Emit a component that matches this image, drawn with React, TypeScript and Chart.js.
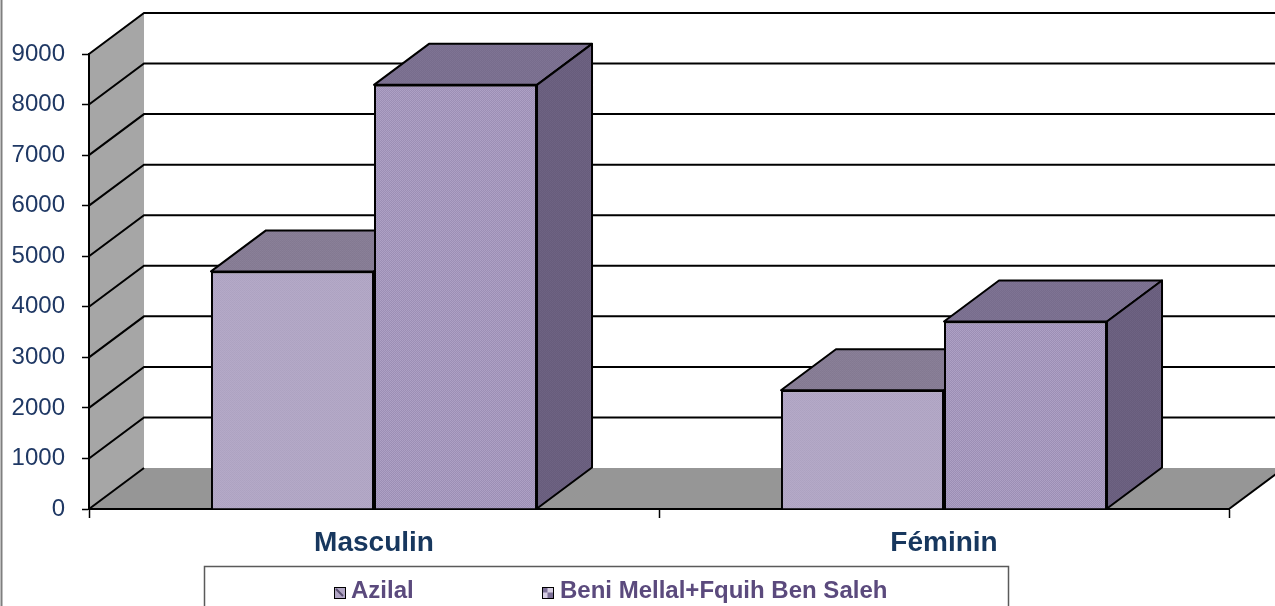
import React, { useEffect, useRef } from "react";
import { Chart, registerables } from "chart.js";

Chart.register(...registerables);

const categories = ["Masculin", "Féminin"];
const seriesNames = ["Azilal", "Beni Mellal+Fquih Ben Saleh"];
const azilal = [4700, 2350];
const beniMellal = [8390, 3710];
const yMin = 0;
const yMax = 9000;
const yStep = 1000;

const DX = 55;
const DY = -41;
const FONT = "Arial, 'Liberation Sans', sans-serif";

function makePattern(colors: string[][]): CanvasPattern | string {
  const h = colors.length;
  const w = colors[0].length;
  const c = document.createElement("canvas");
  c.width = w;
  c.height = h;
  const g = c.getContext("2d");
  if (!g) return colors[0][0];
  for (let r = 0; r < h; r++) {
    for (let k = 0; k < w; k++) {
      g.fillStyle = colors[r][k];
      g.fillRect(k, r, 1, 1);
    }
  }
  const p = g.createPattern(c, "repeat");
  return p || colors[0][0];
}

function poly(ctx: CanvasRenderingContext2D, pts: number[][]) {
  ctx.beginPath();
  ctx.moveTo(pts[0][0], pts[0][1]);
  for (let i = 1; i < pts.length; i++) ctx.lineTo(pts[i][0], pts[i][1]);
  ctx.closePath();
}

export default function App() {
  const ref = useRef<HTMLCanvasElement | null>(null);

  useEffect(() => {
    const canvas = ref.current;
    if (!canvas) return;

    const frontA = makePattern([
      ["#ada2c1", "#b4a9c7"],
      ["#b5aac8", "#aea3c2"],
    ]);
    const frontB = makePattern([
      ["#aea1c5", "#9b8db4"],
      ["#9d8fb6", "#aca0c3"],
    ]);
    const topA = makePattern([
      ["#8a8098", "#847a93"],
      ["#837991", "#897f97"],
    ]);
    const topB = makePattern([
      ["#7f7494", "#776c8c"],
      ["#786d8d", "#7e7393"],
    ]);
    const sideA = "#6e6482";
    const sideB = makePattern([
      ["#6e6383", "#675c7b"],
      ["#685d7c", "#6d6282"],
    ]);
    const tops = [topA, topB];
    const sides = [sideA, sideB];

    const threeD = {
      id: "threeD",
      beforeDraw(chart: any) {
        const { ctx, chartArea: ca, scales } = chart;
        const y = scales.y;
        ctx.save();
        // left wall
        ctx.fillStyle = "#a6a6a6";
        poly(ctx, [
          [ca.left, ca.top],
          [ca.left + DX, ca.top + DY],
          [ca.left + DX, ca.bottom + DY],
          [ca.left, ca.bottom],
        ]);
        ctx.fill();
        // floor
        ctx.fillStyle = "#969696";
        poly(ctx, [
          [ca.left, ca.bottom],
          [ca.right, ca.bottom],
          [ca.right + DX, ca.bottom + DY],
          [ca.left + DX, ca.bottom + DY],
        ]);
        ctx.fill();
        // grid lines: left wall diagonals + back wall horizontals
        ctx.strokeStyle = "#000";
        ctx.lineWidth = 2;
        ctx.lineJoin = "miter";
        for (const t of y.ticks) {
          const py = y.getPixelForValue(t.value);
          ctx.beginPath();
          ctx.moveTo(ca.left, py);
          ctx.lineTo(ca.left + DX, py + DY);
          if (t.value !== yMin) ctx.lineTo(chart.width + 20, py + DY);
          ctx.stroke();
        }
        // floor right edge
        ctx.beginPath();
        ctx.moveTo(ca.right, ca.bottom);
        ctx.lineTo(ca.right + DX, ca.bottom + DY);
        ctx.stroke();
        // outer frame left line
        ctx.strokeStyle = "#7f7f7f";
        ctx.lineWidth = 2;
        ctx.beginPath();
        ctx.moveTo(1.5, 0);
        ctx.lineTo(1.5, chart.height);
        ctx.stroke();
        ctx.restore();
      },
      beforeDatasetsDraw(chart: any) {
        const { ctx } = chart;
        ctx.save();
        ctx.strokeStyle = "#000";
        ctx.lineWidth = 2;
        ctx.lineJoin = "round";
        chart.data.datasets.forEach((_: any, di: number) => {
          const meta = chart.getDatasetMeta(di);
          meta.data.forEach((el: any) => {
            const l = el.x - el.width / 2;
            const r = el.x + el.width / 2;
            const t = el.y;
            const b = el.base;
            // top face
            ctx.fillStyle = tops[di];
            poly(ctx, [
              [l, t],
              [r, t],
              [r + DX, t + DY],
              [l + DX, t + DY],
            ]);
            ctx.fill();
            ctx.stroke();
            // side face
            ctx.fillStyle = sides[di];
            poly(ctx, [
              [r, t],
              [r + DX, t + DY],
              [r + DX, b + DY],
              [r, b],
            ]);
            ctx.fill();
            ctx.stroke();
          });
        });
        ctx.restore();
      },
      afterDraw(chart: any) {
        const { ctx } = chart;
        ctx.save();
        // legend box
        ctx.strokeStyle = "#5a5a5a";
        ctx.lineWidth = 1.5;
        ctx.strokeRect(204.5, 566.5, 804, 80);
        const items = [
          { x: 334, tx: 351 },
          { x: 542, tx: 560 },
        ];
        ctx.font = `bold 24px ${FONT}`;
        ctx.textBaseline = "alphabetic";
        ctx.textAlign = "left";
        chart.data.datasets.forEach((ds: any, i: number) => {
          const it = items[i];
          const iy = 587;
          const s = 11;
          if (i === 0) {
            ctx.fillStyle = "#b1a6c4";
            ctx.fillRect(it.x, iy, s, s);
            ctx.strokeStyle = "#5a4f70";
            ctx.lineWidth = 2;
            ctx.beginPath();
            ctx.moveTo(it.x + 2, iy + 2);
            ctx.lineTo(it.x + s - 2, iy + s - 2);
            ctx.stroke();
          } else {
            ctx.fillStyle = "#d8d0e4";
            ctx.fillRect(it.x, iy, s, s);
            ctx.fillStyle = "#7b6f95";
            ctx.fillRect(it.x, iy, s / 2, s / 2);
            ctx.fillRect(it.x + s / 2, iy + s / 2, s / 2, s / 2);
          }
          ctx.strokeStyle = "#000";
          ctx.lineWidth = 1;
          ctx.strokeRect(it.x + 0.5, iy + 0.5, s, s);
          ctx.fillStyle = "#5b4a7d";
          ctx.fillText(ds.label, it.tx, 598);
        });
        ctx.restore();
      },
    };

    const chart = new Chart(canvas, {
      type: "bar",
      data: {
        labels: categories,
        datasets: [
          {
            label: seriesNames[0],
            data: azilal,
            backgroundColor: frontA as any,
            borderColor: "#000",
            borderWidth: 2,
            categoryPercentage: 0.572,
            barPercentage: 1,
          },
          {
            label: seriesNames[1],
            data: beniMellal,
            backgroundColor: frontB as any,
            borderColor: "#000",
            borderWidth: 2,
            categoryPercentage: 0.572,
            barPercentage: 1,
          },
        ],
      },
      options: {
        responsive: false,
        animation: false,
        devicePixelRatio: 1,
        layout: { padding: { left: 0, top: 54, right: 46, bottom: 0 } },
        plugins: {
          legend: { display: false },
          tooltip: { enabled: false },
        },
        scales: {
          x: {
            offset: true,
            grid: {
              display: true,
              drawOnChartArea: false,
              drawTicks: true,
              tickLength: 9,
              tickColor: "#000",
              tickWidth: 1.5,
              offset: true,
            },
            border: { display: true, color: "#000", width: 2 },
            ticks: {
              font: { family: FONT, size: 28, weight: "bold" },
              color: "#17375e",
              padding: 8,
              maxRotation: 0,
            },
            afterFit(s: any) {
              s.height = 97;
            },
          },
          y: {
            min: yMin,
            max: yMax,
            ticks: {
              stepSize: yStep,
              font: { family: FONT, size: 24 },
              color: "#1f3864",
              padding: 17,
              callback: (v: any) => String(v),
            },
            grid: {
              drawOnChartArea: false,
              drawTicks: true,
              tickLength: 7,
              tickColor: "#000",
              tickWidth: 1.5,
            },
            border: { display: true, color: "#000", width: 2 },
            afterFit(s: any) {
              s.width = 89;
            },
          },
        },
      } as any,
      plugins: [threeD as any],
    });

    return () => chart.destroy();
  }, []);

  return (
    <div style={{ position: "absolute", left: 0, top: 0, width: 1275, height: 606, background: "#fff" }}>
      <canvas ref={ref} width={1275} height={606} style={{ display: "block", width: 1275, height: 606 }} />
    </div>
  );
}
